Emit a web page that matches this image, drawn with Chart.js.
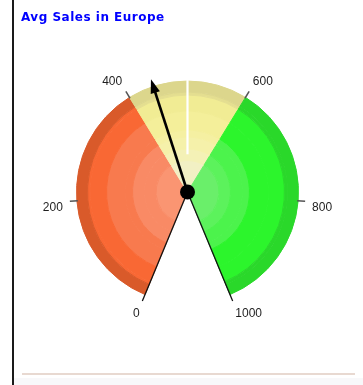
<!DOCTYPE html>
<html>
<head>
<meta charset="utf-8">
<script src="https://cdn.jsdelivr.net/npm/chart.js@4/dist/chart.umd.min.js"></script>
<style>
  html, body { margin: 0; padding: 0; background: #fff; }
  #wrap { position: relative; width: 363px; height: 385px; overflow: hidden; background: #fff; }
  #frame { position: absolute; left: 12px; top: 0; width: 2px; height: 385px; background: #1a1a1a; }
  #title { position: absolute; left: 21px; top: 10px; font: bold 12px "DejaVu Sans", sans-serif; letter-spacing: 0.5px; color: #0000ff; white-space: nowrap; }
  #rule { position: absolute; left: 22px; top: 373px; width: 333px; height: 2px; background: #e8d9d1; }
  #foot { position: absolute; left: 14px; top: 378px; width: 349px; height: 7px; background: #f8f8fa; }
  canvas { position: absolute; left: 0; top: 0; }
</style>
</head>
<body>
<div id="wrap">
  <canvas id="gauge" width="363" height="385"></canvas>
  <div id="frame"></div>
  <div id="title">Avg Sales in Europe</div>
  <div id="rule"></div>
  <div id="foot"></div>
</div>
<script>
// Gauge bands (sizes of each coloured sector on the 0–1000 dial)
const segmentNames = ['Low', 'Medium', 'Medium', 'High'];
const segmentValues = [400, 100, 100, 400];
// Dial ticks
const tickValues = [0, 200, 400, 600, 800, 1000];
const tickLabels = ['0', '200', '400', '600', '800', '1000'];
// Current reading
const needleValue = 443;
const scaleMax = 1000;

// Concentric shading rings, outer ring first (relative thickness of each ring)
const ringWidths   = [11, 3, 16, 19, 7, 12, 11.5, 31.5];
const redShades    = ['#d95a2a', '#f96834', '#f96834', '#f87a4e', '#f87a4e', '#f98a65', '#f98a65', '#fa9572'];
const yellowShades = ['#dcd68c', '#e4de90', '#f1ec94', '#f4ef9a', '#f5f0a2', '#f5f1aa', '#f4f1b6', '#f2f0c4'];
const greenShades  = ['#2ad82a', '#2ad82a', '#2cf52c', '#2cf52c', '#4cf34c', '#4cf34c', '#5cf25c', '#6aef6a'];
const segmentPalettes = [redShades, yellowShades, yellowShades, greenShades];

const datasets = ringWidths.map((w, ring) => {
  const colors = segmentValues.map((_, s) => segmentPalettes[s][ring]);
  return {
    data: segmentValues,
    backgroundColor: colors,
    borderColor: colors,
    borderWidth: 1,
    weight: w,
    hoverOffset: 0
  };
});

// Ticks, labels, edge lines, needle and hub drawn on the doughnut's own geometry
const gaugeDecor = {
  id: 'gaugeDecor',
  afterDatasetsDraw(chart) {
    const meta = chart.getDatasetMeta(0);
    const first = meta.data[0].getProps(['x', 'y', 'startAngle', 'outerRadius'], true);
    const last = meta.data[meta.data.length - 1].getProps(['endAngle'], true);
    const cx = first.x, cy = first.y, r = first.outerRadius;
    const ang = v => first.startAngle + (last.endAngle - first.startAngle) * v / scaleMax;
    const ctx = chart.ctx;
    ctx.save();

    // white divider in the middle band
    const mid = ang(500);
    ctx.strokeStyle = '#ffffff';
    ctx.lineWidth = 2.2;
    ctx.beginPath();
    ctx.moveTo(cx + Math.cos(mid) * r * 0.34, cy + Math.sin(mid) * r * 0.34);
    ctx.lineTo(cx + Math.cos(mid) * (r + 1), cy + Math.sin(mid) * (r + 1));
    ctx.stroke();

    // ticks and dial edges
    tickValues.forEach((v, i) => {
      const a = ang(v);
      const c = Math.cos(a), s = Math.sin(a);
      const edge = (v === 0 || v === scaleMax);
      ctx.strokeStyle = edge ? '#111111' : '#555555';
      ctx.lineWidth = edge ? 1.3 : 1.5;
      const r0 = edge ? 0 : r - 1;
      ctx.beginPath();
      ctx.moveTo(cx + c * r0, cy + s * r0);
      ctx.lineTo(cx + c * (r + 7), cy + s * (r + 7));
      ctx.stroke();

      const lr = r + 14;
      const lx = cx + c * lr, ly = cy + s * lr;
      ctx.fillStyle = '#1e1e1e';
      ctx.font = '12px "Liberation Sans", Arial, sans-serif';
      ctx.textAlign = c < -0.1 ? 'right' : (c > 0.1 ? 'left' : 'center');
      ctx.textBaseline = s < 0 ? 'alphabetic' : 'top';
      ctx.fillText(tickLabels[i], lx, ly);
    });

    // needle
    const na = ang(needleValue);
    const nc = Math.cos(na), ns = Math.sin(na);
    const tipR = r + 7.5;
    const headLen = 14, headHalf = 4.8;
    const tx = cx + nc * tipR, ty = cy + ns * tipR;
    const bx = cx + nc * (tipR - headLen), by = cy + ns * (tipR - headLen);
    ctx.strokeStyle = '#000000';
    ctx.lineWidth = 2.6;
    ctx.lineCap = 'butt';
    ctx.beginPath();
    ctx.moveTo(cx, cy);
    ctx.lineTo(bx + nc * 2, by + ns * 2);
    ctx.stroke();
    ctx.fillStyle = '#000000';
    ctx.beginPath();
    ctx.moveTo(tx, ty);
    ctx.lineTo(bx - ns * headHalf, by + nc * headHalf);
    ctx.lineTo(bx + ns * headHalf, by - nc * headHalf);
    ctx.closePath();
    ctx.fill();

    // hub
    ctx.beginPath();
    ctx.arc(cx, cy, 7.5, 0, Math.PI * 2);
    ctx.fill();
    ctx.restore();
  }
};

new Chart(document.getElementById('gauge'), {
  type: 'doughnut',
  data: { labels: segmentNames, datasets },
  options: {
    responsive: false,
    animation: false,
    devicePixelRatio: 1,
    events: [],
    rotation: 202.5,
    circumference: 315,
    cutout: 0,
    radius: 111,
    layout: { padding: { left: 12, right: 0, top: 0, bottom: 9.4 } },
    plugins: { legend: { display: false }, tooltip: { enabled: false } }
  },
  plugins: [gaugeDecor]
});
</script>
</body>
</html>
